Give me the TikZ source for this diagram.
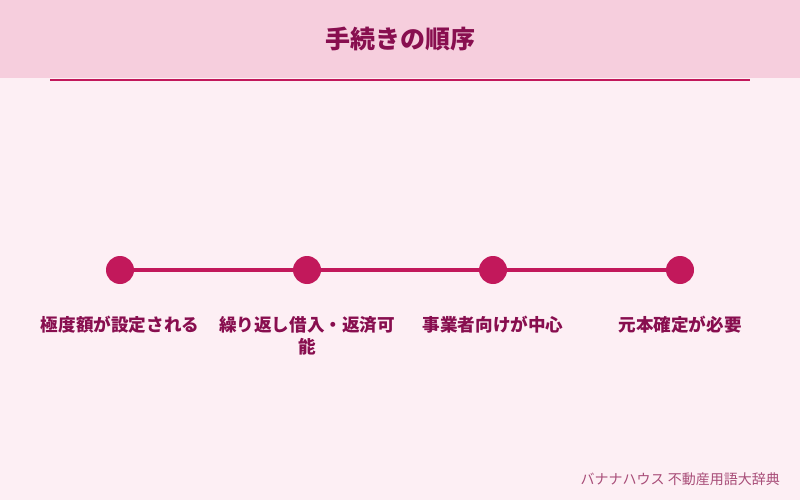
\documentclass[tikz,border=0pt]{standalone}
\usepackage{fontspec}
\newfontfamily\jp{Noto Sans CJK JP}
\usetikzlibrary{positioning}
\definecolor{bandpink}{HTML}{F6CEDD}
\definecolor{backpink}{HTML}{FDEFF4}
\definecolor{accent}{HTML}{C2185B}
\definecolor{darkrose}{HTML}{880E4F}
\definecolor{footrose}{HTML}{A84D78}

\begin{document}
\begin{tikzpicture}[x=1pt, y=-1pt,
    dot/.style = {circle, fill=accent, minimum size=28pt, inner sep=0pt},
    steplabel/.style = {text=darkrose, font=\jp\bfseries\fontsize{17.6pt}{22pt}\selectfont,
        align=center, inner sep=0pt, anchor=north}]
\useasboundingbox (0,0) rectangle (800,500);
\fill[backpink] (0,0) rectangle (800,78);
\fill[backpink] (0,0) rectangle (800,500);
\fill[bandpink] (0,0) rectangle (800,78);
\node[text=darkrose, font=\jp\bfseries\fontsize{25pt}{28pt}\selectfont] (title) at (400,39) {手続きの順序};
\draw[accent, line width=2pt] (50,80.5) -- (750,80.5);

\node[dot] (s1) at (120,270) {};
\node[dot] (s2) at (307,270) {};
\node[dot] (s3) at (493,270) {};
\node[dot] (s4) at (680,270) {};
\draw[accent, line width=3.5pt] (s1) -- (s2) -- (s3) -- (s4);

\node[steplabel] (l1) at (120,316) {極度額が設定される};
\node[steplabel] (l2) at (307,316) {繰り返し借入・返済可\\能};
\node[steplabel] (l3) at (493,316) {事業者向けが中心};
\node[steplabel] (l4) at (680,316) {元本確定が必要};

\node[text=footrose, font=\jp\fontsize{14pt}{16pt}\selectfont, anchor=east, inner sep=0pt] (credit) at (780,479) {バナナハウス 不動産用語大辞典};
\end{tikzpicture}
\end{document}
